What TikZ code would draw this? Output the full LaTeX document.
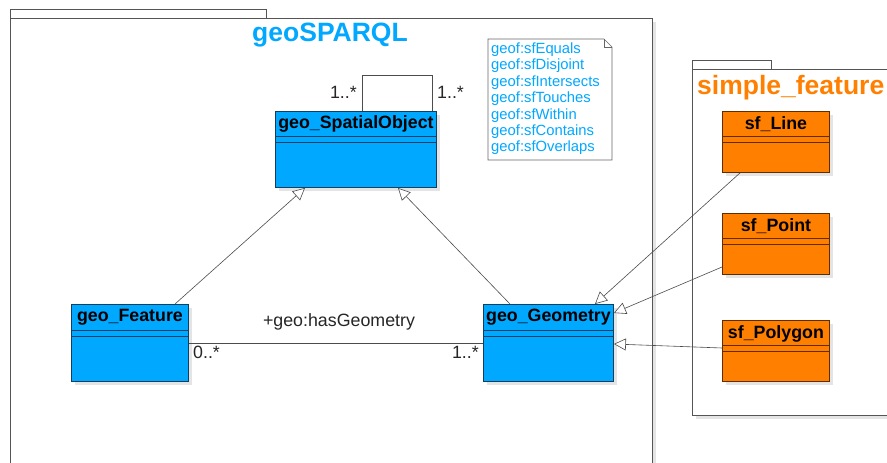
\documentclass[tikz,border=0pt]{standalone}
\usepackage{fontspec}
\setmainfont{Liberation Sans}
\usetikzlibrary{arrows.meta,calc,shadows}
\definecolor{gblue}{HTML}{00A8FF}
\definecolor{gorange}{HTML}{FF8000}
\definecolor{bline}{HTML}{123F5E}
\definecolor{oline}{HTML}{5E2E00}
\definecolor{pkgline}{HTML}{555555}
\definecolor{shd}{HTML}{E4E4E4}
\tikzset{
  pkg/.style={draw=pkgline, line width=0.9pt, fill=white},
  pkgtitle/.style={font=\fontsize{26.5}{30}\selectfont\bfseries, inner sep=0pt},
  bluecls/.style={draw=bline, line width=0.9pt, fill=gblue, anchor=north west, inner sep=0pt,
     drop shadow={shadow xshift=4pt, shadow yshift=-4pt, fill=shd, opacity=1}},
  orcls/.style={draw=oline, line width=0.9pt, fill=gorange, anchor=north west, inner sep=0pt,
     drop shadow={shadow xshift=4pt, shadow yshift=-4pt, fill=shd, opacity=1}},
  clsname/.style={font=\fontsize{17.8}{20}\selectfont\bfseries, anchor=north, inner sep=0pt, text=black},
  mult/.style={font=\fontsize{17.8}{20}\selectfont, inner sep=0pt, text=black!85},
  gen/.style={draw=black!70, line width=0.6pt, -{Triangle[open, length=12pt, width=12pt, fill=white]}},
  assoc/.style={draw=black!70, line width=0.6pt},
  notetext/.style={font=\fontsize{14.8}{16.4}\selectfont, text=gblue, align=left, anchor=north west, inner sep=0pt}
}
\begin{document}
\begin{tikzpicture}[x=1pt,y=-1pt]
\useasboundingbox (0,0) rectangle (887,463);
% ---------- geoSPARQL package ----------
\fill[shd] (14,22) rectangle (656,463);
\draw[pkg] (10,9) rectangle (266,18);
\draw[pkg] (10,463.5) -- (10,18) -- (652,18) -- (652,463.5);
\node[pkgtitle, text=gblue] (t1) at (330,35) {geoSPARQL};
% ---------- simple_feature package ----------
\fill[shd] (696,73) rectangle (890,419);
\draw[pkg] (692,60) rectangle (771,69);
\draw[pkg] (890,69) -- (692,69) -- (692,415) -- (890,415);
\node[pkgtitle, text=gorange, anchor=west] (t2) at (697,88) {simple\_feature};
% ---------- note ----------
\draw[draw=black!60, line width=0.7pt, fill=white] (488,39) -- (604,39) -- (612,47) -- (612,160) -- (488,160) -- cycle;
\draw[draw=black!60, line width=0.7pt] (604,39) -- (604,47) -- (612,47);
\node[notetext] (note) at (491,42.5) {geof:sfEquals\\geof:sfDisjoint\\geof:sfIntersects\\geof:sfTouches\\geof:sfWithin\\geof:sfContains\\geof:sfOverlaps};
% ---------- classes ----------
\node[bluecls, minimum width=161pt, minimum height=76pt] (so) at (275,111) {};
\node[clsname] at ([yshift=-4.5pt]so.north) {geo\_SpatialObject};
\draw[bline, line width=0.9pt] ([yshift=-25pt]so.north west) -- ([yshift=-25pt]so.north east)
   ([yshift=-31pt]so.north west) -- ([yshift=-31pt]so.north east);

\node[bluecls, minimum width=117pt, minimum height=77pt] (gf) at (71,304) {};
\node[clsname] at ([yshift=-5pt]gf.north) {geo\_Feature};
\draw[bline, line width=0.9pt] ([yshift=-26pt]gf.north west) -- ([yshift=-26pt]gf.north east)
   ([yshift=-32pt]gf.north west) -- ([yshift=-32pt]gf.north east);

\node[bluecls, minimum width=130pt, minimum height=77pt] (gg) at (483,304) {};
\node[clsname] at ([yshift=-5pt]gg.north) {geo\_Geometry};
\draw[bline, line width=0.9pt] ([yshift=-26pt]gg.north west) -- ([yshift=-26pt]gg.north east)
   ([yshift=-32pt]gg.north west) -- ([yshift=-32pt]gg.north east);

\node[orcls, minimum width=107pt, minimum height=61pt] (sl) at (722,111) {};
\node[clsname] at ([yshift=-5pt]sl.north) {sf\_Line};
\draw[oline, line width=0.9pt] ([yshift=-25pt]sl.north west) -- ([yshift=-25pt]sl.north east)
   ([yshift=-31pt]sl.north west) -- ([yshift=-31pt]sl.north east);

\node[orcls, minimum width=107pt, minimum height=61pt] (sp) at (722,213) {};
\node[clsname] at ([yshift=-5pt]sp.north) {sf\_Point};
\draw[oline, line width=0.9pt] ([yshift=-25pt]sp.north west) -- ([yshift=-25pt]sp.north east)
   ([yshift=-31pt]sp.north west) -- ([yshift=-31pt]sp.north east);

\node[orcls, minimum width=107pt, minimum height=61pt] (spg) at (722,320) {};
\node[clsname] at ([yshift=-5pt]spg.north) {sf\_Polygon};
\draw[oline, line width=0.9pt] ([yshift=-25pt]spg.north west) -- ([yshift=-25pt]spg.north east)
   ([yshift=-31pt]spg.north west) -- ([yshift=-31pt]spg.north east);

% ---------- self association ----------
\draw[assoc] ([xshift=87pt]so.north west) -- ++(0,-36) -| ([xshift=157pt]so.north west);
\node[mult, anchor=east] (m1) at (357,92) {1..*};
\node[mult, anchor=west] (m2) at (437,92) {1..*};

% ---------- association hasGeometry ----------
\draw[assoc] ([yshift=-39pt]gf.north east) -- ([yshift=-39pt]gg.north west);
\node[mult] (hg) at (339,322) {+geo:hasGeometry};
\node[mult, anchor=west] (m3) at (193,352) {0..*};
\node[mult, anchor=east] (m4) at (479,352) {1..*};

% ---------- generalizations ----------
\draw[gen] ([xshift=104pt]gf.north west) -- ([xshift=30pt]so.south west);
\draw[gen] ([xshift=27pt]gg.north west) -- ([xshift=123pt]so.south west);
\draw[gen] ([xshift=18pt]sl.south west) -- ([xshift=112pt]gg.north west);
\draw[gen] ([yshift=-54pt]sp.north west) -- ([yshift=-9pt]gg.north east);
\draw[gen] ([yshift=-28pt]spg.north west) -- ([yshift=-40pt]gg.north east);
\end{tikzpicture}
\end{document}
